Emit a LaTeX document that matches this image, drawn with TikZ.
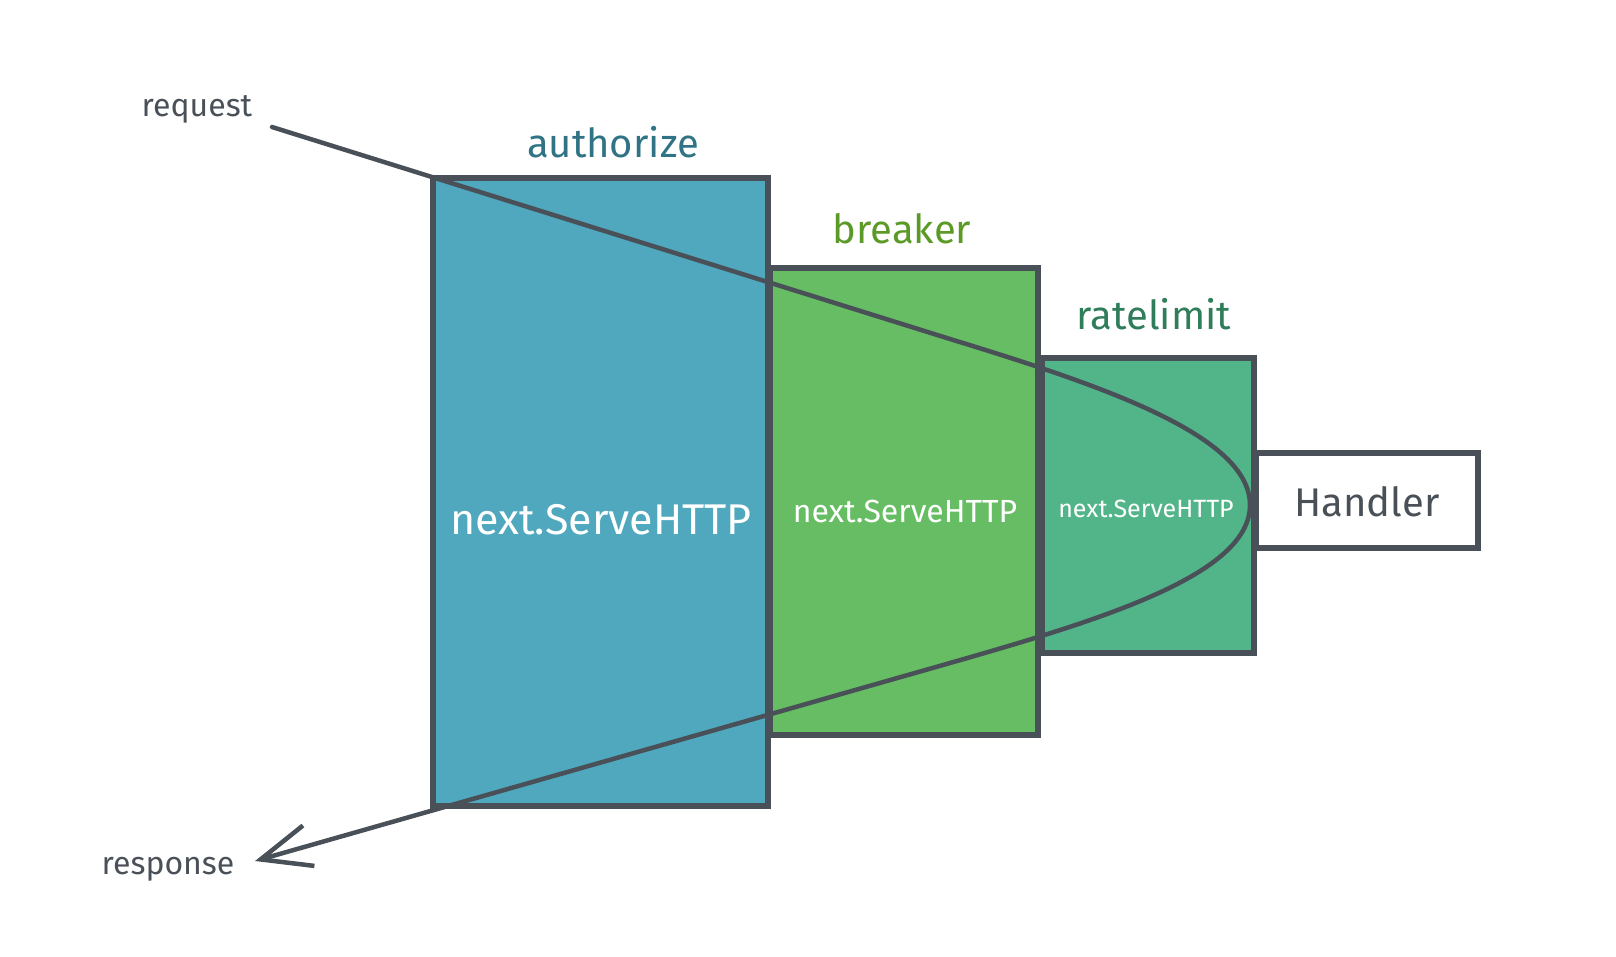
\documentclass[tikz,border=0pt]{standalone}
\usepackage{fontspec}
\setmainfont{Fira Sans}
\usetikzlibrary{arrows.meta}
\definecolor{ink}{HTML}{495057}
\definecolor{authfill}{HTML}{4FA8BD}
\definecolor{breakfill}{HTML}{66BD63}
\definecolor{ratefill}{HTML}{52B58A}
\definecolor{authtext}{HTML}{2F7385}
\definecolor{breaktext}{HTML}{5C9A28}
\definecolor{ratetext}{HTML}{2F7D5A}
\begin{document}
\begin{tikzpicture}[x=1pt,y=-1pt,
    layer/.style={draw=ink, line width=5.5pt, inner sep=0pt, outer sep=0pt},
    call/.style={text=white, inner sep=0pt},
    title/.style={inner sep=0pt, font=\fontsize{40}{40}\selectfont},
    side/.style={inner sep=0pt, text=ink, font=\fontsize{32}{32}\selectfont}]
    \useasboundingbox (0,0) rectangle (1616,956);
    \node[layer, fill=authfill, minimum width=335pt, minimum height=628pt] (auth) at (600.5,492) {};
    \node[layer, fill=breakfill, minimum width=268pt, minimum height=467pt] (breaker) at (904,501.5) {};
    \node[layer, fill=ratefill, minimum width=212pt, minimum height=295pt] (rate) at (1148,505.5) {};
    \node[layer, fill=white, minimum width=222pt, minimum height=95pt] (handler) at (1367,500.5) {};
    \node[title, text=authtext] (authname) at (613,142) {authorize};
    \node[title, text=breaktext] (breakname) at (902,229) {breaker};
    \node[title, text=ratetext] (ratename) at (1154,314) {ratelimit};
    \node[call, font=\fontsize{43}{43}\selectfont] (authcall) at (601,520) {next.ServeHTTP};
    \node[call, font=\fontsize{32}{32}\selectfont] (breakcall) at (905,511) {next.ServeHTTP};
    \node[call, font=\fontsize{25}{25}\selectfont] (ratecall) at (1146,509) {next.ServeHTTP};
    \node[inner sep=0pt, text=ink, font=\fontsize{40}{40}\selectfont] (handlername) at (1367,502) {Handler};
    \node[side] (request) at (197,109) {request};
    \node[side] (response) at (168,869) {response};
    \coordinate (in) at (272,127);
    \coordinate (out) at (255,861);
    \coordinate (turn) at (1250,505);
    \draw[ink, line width=4.5pt, line cap=round, -{Straight Barb[length=50pt,width=42pt,line width=4.5pt]}]
        (in) -- (950,339) .. controls (1100,385) and (1250,435) .. (turn)
        .. controls (1250,575) and (1100,620) .. (950,663) -- (out);
\end{tikzpicture}
\end{document}
